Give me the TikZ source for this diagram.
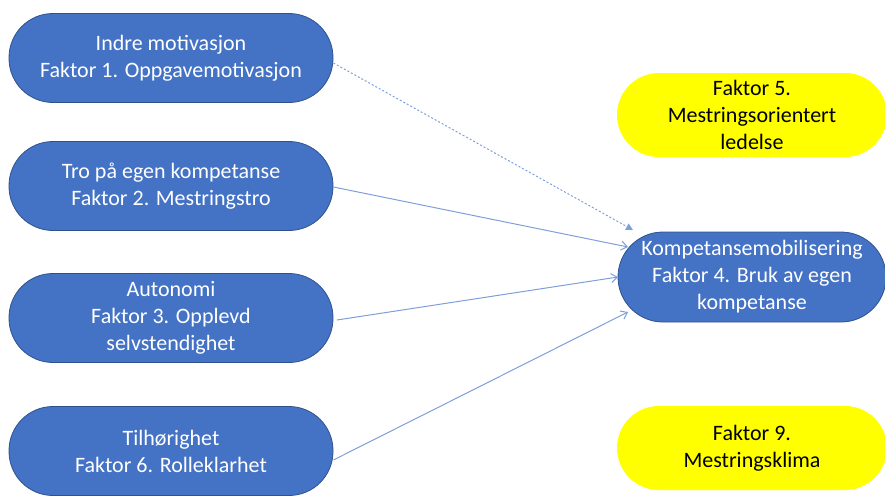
\documentclass[tikz,border=0pt]{standalone}
\usepackage{fontspec}
\setmainfont{Carlito}
\usetikzlibrary{arrows.meta}
\definecolor{boxblue}{HTML}{4472C4}
\definecolor{edgeblue}{HTML}{2F528F}
\definecolor{lineblue}{HTML}{7F9FDB}
\definecolor{boxyellow}{HTML}{FFFF00}
\tikzset{
  x=1pt, y=-1pt,
  pill/.style={minimum width=324pt, minimum height=89pt, rounded corners=44pt,
    align=center, inner sep=0pt, font=\fontsize{22}{27}\selectfont},
  bluepill/.style={pill, fill=boxblue, draw=edgeblue, line width=0.8pt, text=white},
  yellowpill/.style={pill, fill=boxyellow, draw=none, text=black, minimum width=270pt, minimum height=84pt, rounded corners=42pt},
  conn/.style={draw=lineblue, line width=1pt, -{Straight Barb[length=6pt,width=9pt]}},
  dashconn/.style={draw=lineblue, line width=1pt, dash pattern=on 2pt off 2pt, -{Triangle[length=7pt,width=7pt]}}
}
\begin{document}
\begin{tikzpicture}
\useasboundingbox (0,0) rectangle (885,498);
\node[bluepill] (f1) at (171,58) {Indre motivasjon\\Faktor 1. Oppgavemotivasjon};
\node[bluepill] (f2) at (171,186) {Tro på egen kompetanse\\Faktor 2. Mestringstro};
\node[bluepill] (f3) at (171,318) {Autonomi\\Faktor 3. Opplevd\\selvstendighet};
\node[bluepill] (f6) at (171,451) {Tilhørighet\\Faktor 6. Rolleklarhet};
\node[bluepill, minimum width=268pt, minimum height=90pt, rounded corners=45pt] (f4) at (752,277) {Kompetansemobilisering\\Faktor 4. Bruk av egen\\kompetanse};
\node[yellowpill] (f5) at (752,115) {Faktor 5.\\Mestringsorientert\\ledelse};
\node[yellowpill] (f9) at (752,448) {Faktor 9.\\Mestringsklima};
\coordinate (d1) at (633,230);
\coordinate (e2) at (628,247);
\coordinate (e3) at (618,277);
\coordinate (e6) at (628,312);
\draw[dashconn] (f1.east |- 0,63) -- (d1);
\draw[conn] (f2.east |- 0,187) -- (e2);
\draw[conn] (337,320) -- (e3);
\draw[conn] (f6.east |- 0,460) -- (e6);
\end{tikzpicture}
\end{document}
